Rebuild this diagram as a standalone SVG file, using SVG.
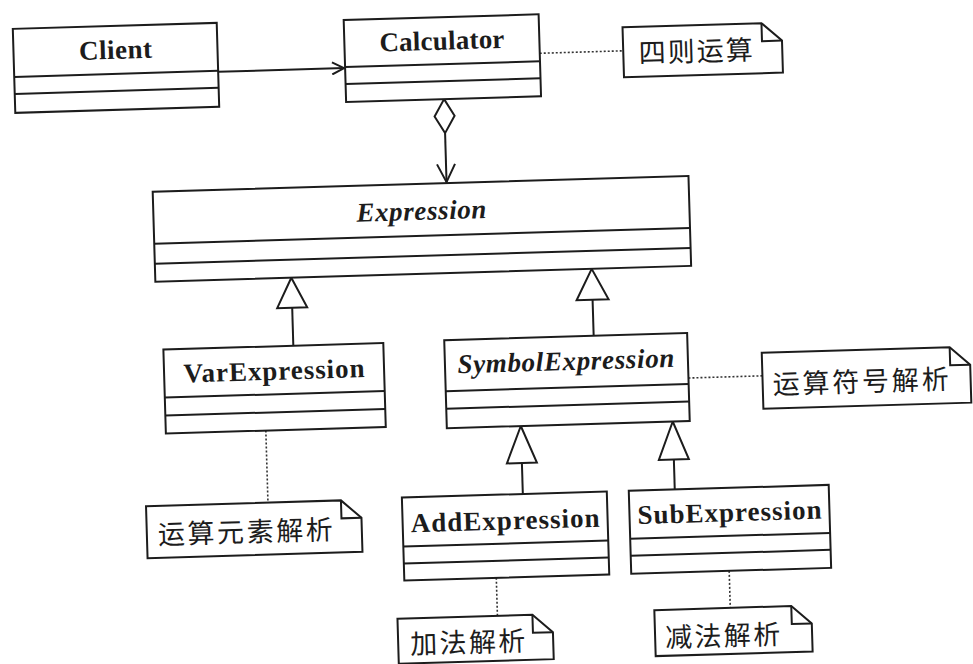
<svg xmlns="http://www.w3.org/2000/svg" width="973" height="664" viewBox="0 0 973 664">
<style>
.box{fill:#fff;stroke:#1c1c1c;stroke-width:2}
.ln{stroke:#1c1c1c;stroke-width:2;fill:none}
.tri{fill:#fff;stroke:#1c1c1c;stroke-width:2;stroke-linejoin:miter}
.dot{stroke:#333;stroke-width:1.6;stroke-dasharray:2 2;fill:none}
.cls{font-family:"Liberation Serif",serif;font-weight:bold;font-size:27px;fill:#1c1c1c;text-anchor:middle}
.abs{font-style:italic}
.nt{font-family:"Noto Sans CJK SC","Liberation Sans",sans-serif;font-size:27px;fill:#1c1c1c;dominant-baseline:central}
</style>
<defs>
<marker id="open" viewBox="0 0 14 14" refX="13" refY="7" markerWidth="14" markerHeight="14" markerUnits="userSpaceOnUse" orient="auto">
<path d="M1,1 L13,7 L1,13" fill="none" stroke="#1c1c1c" stroke-width="2"/>
</marker>
</defs>
<rect width="973" height="664" fill="#fff"/>
<g transform="rotate(-1.7 486 332)">
<g id="connectors">
<line class="ln" x1="226" y1="64" x2="352" y2="64" marker-end="url(#open)"/>
<line class="dot" x1="548" y1="55" x2="631.5" y2="55"/>
<polygon class="tri" points="451,98 461,115 451,132 441,115"/>
<line class="ln" x1="451" y1="132" x2="451" y2="181"/>
<polyline class="ln" points="442,163 451,181 460,163"/>
<polygon class="tri" points="293,272 278,302 308,302"/>
<line class="ln" x1="293" y1="302" x2="293" y2="340"/>
<polygon class="tri" points="593.5,272 577.5,303 609.5,303"/>
<line class="ln" x1="593.5" y1="303" x2="593.5" y2="339"/>
<line class="dot" x1="687" y1="384" x2="761" y2="384"/>
<line class="dot" x1="263" y1="424" x2="263" y2="496"/>
<polygon class="tri" points="518,427 503,464 533,464"/>
<line class="ln" x1="518" y1="464" x2="518" y2="495"/>
<polygon class="tri" points="670,427 655,465 685,465"/>
<line class="ln" x1="670" y1="465" x2="670" y2="495"/>
<line class="dot" x1="489" y1="578" x2="489" y2="616"/>
<line class="dot" x1="722" y1="578" x2="722" y2="615"/>
</g>
<g id="Client">
<rect class="box" x="22" y="15" width="204" height="84"/>
<line class="ln" x1="22" y1="63" x2="226" y2="63"/>
<line class="ln" x1="22" y1="80" x2="226" y2="80"/>
<text class="cls" x="124" y="48" textLength="73" lengthAdjust="spacing">Client</text>
</g>
<g id="Calculator">
<rect class="box" x="353" y="16" width="195" height="82"/>
<line class="ln" x1="353" y1="63" x2="548" y2="63"/>
<line class="ln" x1="353" y1="80" x2="548" y2="80"/>
<text class="cls" x="450.5" y="48.5" textLength="125" lengthAdjust="spacing">Calculator</text>
</g>
<g id="note-calc">
<path class="box" d="M631.5,31.5 H770.5 L790.5,49.5 V81.5 H631.5 Z"/>
<path class="ln" d="M770.5,31.5 V49.5 H790.5"/>
<text class="nt" x="647" y="56" textLength="114" lengthAdjust="spacing">四则运算</text>
</g>
<g id="Expression">
<rect class="box" x="157" y="182" width="536" height="90"/>
<line class="ln" x1="157" y1="234" x2="693" y2="234"/>
<line class="ln" x1="157" y1="254" x2="693" y2="254"/>
<text class="cls abs" x="425" y="218" textLength="130" lengthAdjust="spacing">Expression</text>
</g>
<g id="VarExpression">
<rect class="box" x="163" y="340" width="220" height="84"/>
<line class="ln" x1="163" y1="388" x2="383" y2="388"/>
<line class="ln" x1="163" y1="406" x2="383" y2="406"/>
<text class="cls" x="273" y="373.5" textLength="181" lengthAdjust="spacing">VarExpression</text>
</g>
<g id="SymbolExpression">
<rect class="box" x="444" y="339" width="243" height="88"/>
<line class="ln" x1="444" y1="390" x2="687" y2="390"/>
<line class="ln" x1="444" y1="407.5" x2="687" y2="407.5"/>
<text class="cls abs" x="565" y="372.5" textLength="217" lengthAdjust="spacing">SymbolExpression</text>
</g>
<g id="note-symbol">
<path class="box" d="M761,361 H949 L969,379 V417 H761 Z"/>
<path class="ln" d="M949,361 V379 H969"/>
<text class="nt" x="771" y="391" textLength="176" lengthAdjust="spacing">运算符号解析</text>
</g>
<g id="note-var">
<path class="box" d="M141,496 H336 L356,514 V548 H141 Z"/>
<path class="ln" d="M336,496 V514 H356"/>
<text class="nt" x="152" y="523" textLength="175" lengthAdjust="spacing">运算元素解析</text>
</g>
<g id="AddExpression">
<rect class="box" x="397" y="495" width="205" height="83"/>
<line class="ln" x1="397" y1="544" x2="602" y2="544"/>
<line class="ln" x1="397" y1="561" x2="602" y2="561"/>
<text class="cls" x="499.5" y="530" textLength="189" lengthAdjust="spacing">AddExpression</text>
</g>
<g id="SubExpression">
<rect class="box" x="624" y="495" width="200" height="83"/>
<line class="ln" x1="624" y1="543" x2="824" y2="543"/>
<line class="ln" x1="624" y1="560" x2="824" y2="560"/>
<text class="cls" x="724" y="528.5" textLength="184" lengthAdjust="spacing">SubExpression</text>
</g>
<g id="note-add">
<path class="box" d="M389,616 H524 L544,634 V661 H389 Z"/>
<path class="ln" d="M524,616 V634 H544"/>
<text class="nt" x="401" y="640" textLength="115" lengthAdjust="spacing">加法解析</text>
</g>
<g id="note-sub">
<path class="box" d="M646,615 H783 L803,633 V661 H646 Z"/>
<path class="ln" d="M783,615 V633 H803"/>
<text class="nt" x="656" y="641" textLength="115" lengthAdjust="spacing">减法解析</text>
</g>
</g>
</svg>
